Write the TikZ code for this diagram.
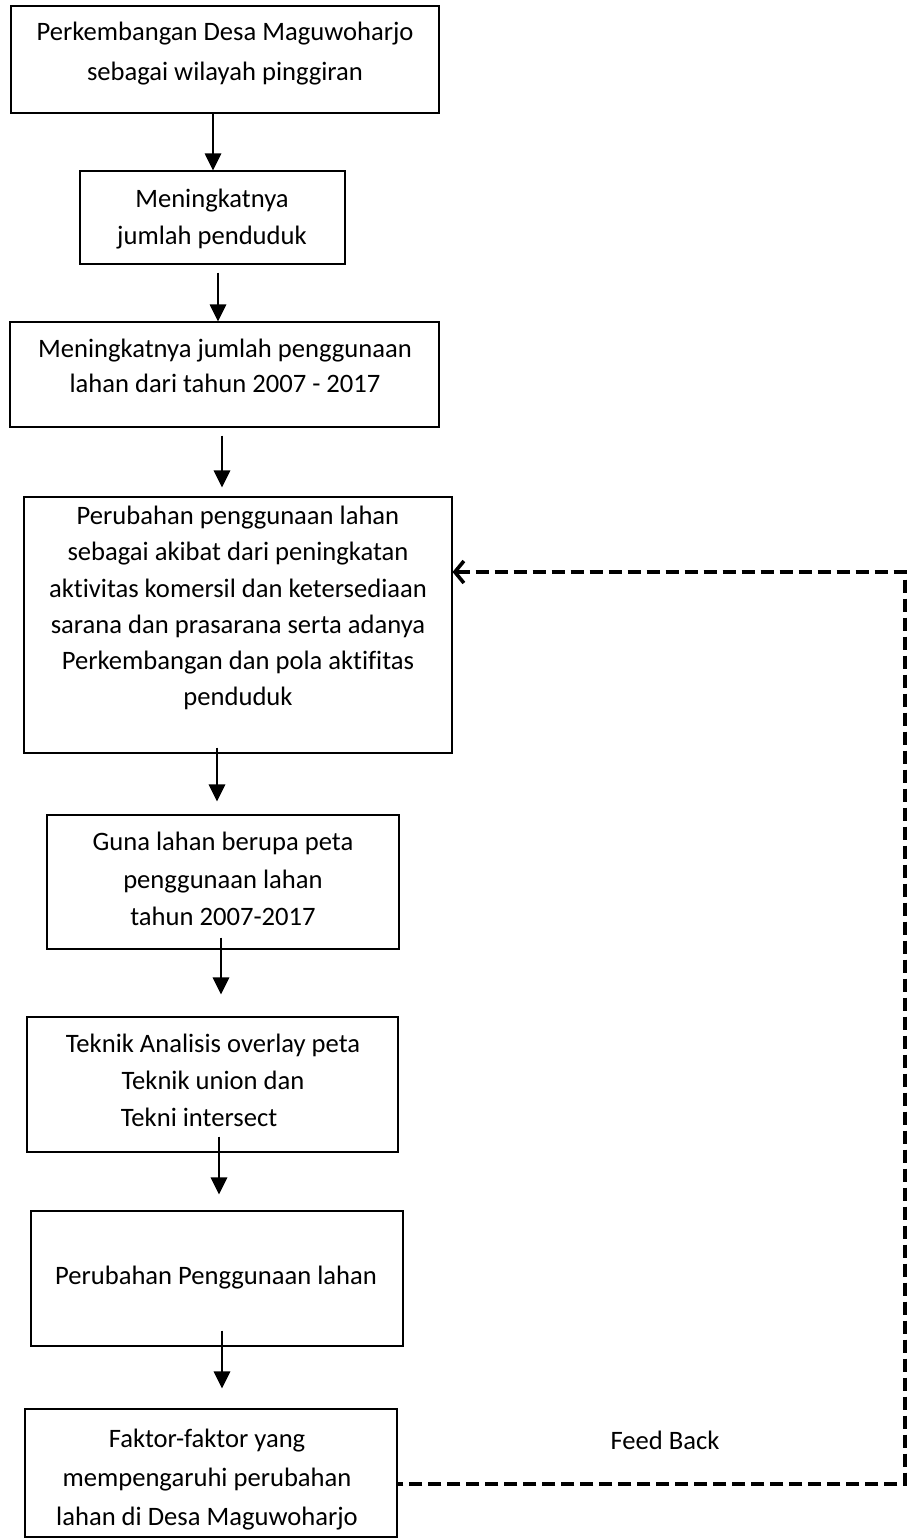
\documentclass[tikz,border=0pt]{standalone}
\usepackage{fontspec}
\setmainfont{Carlito}[Ligatures={NoCommon}]
\usetikzlibrary{arrows.meta}
\begin{document}
\begin{tikzpicture}[x=1pt,y=-1pt,
 box/.style={draw=black,line width=1.1pt,rectangle,inner sep=0pt},
 txt/.style={anchor=north,align=center,inner sep=0pt},
 fsz/.style={font=\fontsize{26.6}{#1}\selectfont},
 arr/.style={line width=2.8pt,-{Triangle[length=17pt,width=16pt]}},
 fbline/.style={line width=3.6pt,dash pattern=on 13pt off 6pt,{Straight Barb[length=9pt,width=22pt,line width=3.6pt]}-}]
\useasboundingbox (0,0) rectangle (913,1539);
% boxes
\node[box,minimum width=428pt,minimum height=107pt] (b1) at (225,59.5) {};
\node[box,minimum width=265pt,minimum height=93pt] (b2) at (212.5,217.5) {};
\node[box,minimum width=429pt,minimum height=105pt] (b3) at (224.5,374.5) {};
\node[box,minimum width=428pt,minimum height=256pt] (b4) at (238,625) {};
\node[box,minimum width=352pt,minimum height=134pt] (b5) at (223,882) {};
\node[box,minimum width=371pt,minimum height=135pt] (b6) at (212.5,1084.5) {};
\node[box,minimum width=372pt,minimum height=135pt] (b7) at (217,1278.5) {};
\node[box,minimum width=372pt,minimum height=128pt] (b8) at (211,1473) {};
% texts
\node[txt,fsz=40] (t1) at (225,12.5) {\strut Perkembangan Desa Maguwoharjo\\ sebagai wilayah pinggiran};
\node[txt,fsz=37] (t2) at (212,181.6) {\strut Meningkatnya\\ jumlah penduduk};
\node[txt,fsz=35] (t3) at (225,333) {\strut Meningkatnya jumlah penggunaan\\ lahan dari tahun 2007 - 2017};
\node[txt,fsz=36.2] (t4) at (238,499.2) {\strut Perubahan penggunaan lahan\\ sebagai akibat dari peningkatan\\ aktivitas komersil dan ketersediaan\\ sarana dan prasarana serta adanya\\ Perkembangan dan pola aktifitas\\ penduduk};
\node[txt,fsz=37.5] (t5) at (223,824.25) {\strut Guna lahan berupa peta\\ penggunaan lahan\\ tahun 2007-2017};
\node[txt,fsz=37] (t6) at (213,1026.6) {\strut Teknik Analisis overlay peta\\ Teknik union dan\\ Tekni intersect\hspace*{28pt}};
\node[txt,fsz=36.5] (t7) at (216,1259) {\strut Perubahan Penggunaan lahan};
\node[txt,fsz=39] (t8) at (207,1420.2) {\strut Faktor-faktor yang\\ mempengaruhi perubahan\\ lahan di Desa Maguwoharjo};
\node[anchor=base,inner sep=0pt,fsz=36.5] (tfb) at (665,1449.5) {Feed Back};
% arrow x positions
\coordinate (x1) at (213,0);
\coordinate (x2) at (218,0);
\coordinate (x3) at (222,0);
\coordinate (x4) at (217,0);
\coordinate (x5) at (221,0);
\coordinate (x6) at (219,0);
\coordinate (x7) at (222,0);
\draw[arr] (b1.south -| x1) -- (b2.north -| x1);
\draw[arr,shorten <=8pt] (b2.south -| x2) -- (b3.north -| x2);
\draw[arr,shorten <=8pt,shorten >=9pt] (b3.south -| x3) -- (b4.north -| x3);
\draw[arr,shorten <=-6pt,shorten >=13pt] (b4.south -| x4) -- (b5.north -| x4);
\draw[arr,shorten <=-12pt,shorten >=22pt] (b5.south -| x5) -- (b6.north -| x5);
\draw[arr,shorten <=-16pt,shorten >=16pt] (b6.south -| x6) -- (b7.north -| x6);
\draw[arr,shorten <=-16pt,shorten >=20pt] (b7.south -| x7) -- (b8.north -| x7);
% feedback
\coordinate (fbR) at (905,0);
\coordinate (fbA) at (0,572);
\coordinate (fbB) at (0,1484);
\draw[fbline] (b4.east |- fbA) -- (fbR |- fbA) -- (fbR |- fbB) -- (b8.east |- fbB);
\end{tikzpicture}
\end{document}
